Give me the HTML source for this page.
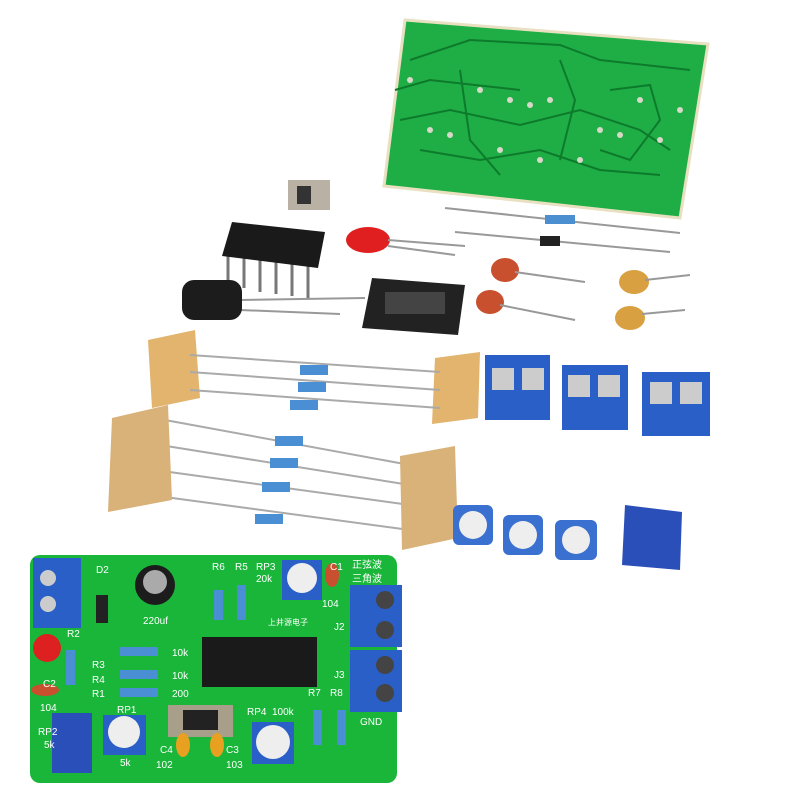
<!DOCTYPE html>
<html><head><meta charset="utf-8"><style>
html,body{margin:0;padding:0;background:#fff;}
svg{display:block;}
text{font-family:"Liberation Sans","Noto Sans CJK SC",sans-serif;}
</style></head><body>
<svg width="800" height="800" viewBox="0 0 800 800" xmlns="http://www.w3.org/2000/svg">
<rect width="800" height="800" fill="#fff"/>
<!-- bare PCB -->
<polygon points="405,20 708,44 680,218 384,186" fill="#1fae45" stroke="#e8e0c0" stroke-width="3"/>
<g fill="none" stroke="#0d7a2c" stroke-width="2">
<path d="M410,60 L470,40 L560,45 L600,60 L690,70"/><path d="M400,120 L450,110 L520,125 L580,110 L640,130 L670,150"/>
<path d="M420,150 L480,160 L540,150 L600,170 L660,175"/><path d="M460,70 L470,140 L500,175"/><path d="M560,60 L575,100 L560,160"/>
<path d="M610,90 L650,85 L660,120 L630,160 L600,150"/><path d="M395,90 L430,80 L520,90"/>
</g>
<g fill="#d8d8c8">
<circle cx="430" cy="130" r="3"/><circle cx="450" cy="135" r="3"/><circle cx="480" cy="90" r="3"/><circle cx="510" cy="100" r="3"/><circle cx="530" cy="105" r="3"/><circle cx="550" cy="100" r="3"/><circle cx="600" cy="130" r="3"/><circle cx="620" cy="135" r="3"/><circle cx="640" cy="100" r="3"/><circle cx="660" cy="140" r="3"/><circle cx="500" cy="150" r="3"/><circle cx="540" cy="160" r="3"/><circle cx="580" cy="160" r="3"/><circle cx="410" cy="80" r="3"/><circle cx="680" cy="110" r="3"/>
</g>
<!-- switch -->
<rect x="288" y="180" width="42" height="30" fill="#b9b2a4"/><rect x="297" y="186" width="14" height="18" fill="#333"/>
<!-- resistor/diode lines -->
<line x1="445" y1="208" x2="680" y2="233" stroke="#999" stroke-width="2"/><rect x="545" y="215" width="30" height="9" fill="#4b8fd0"/>
<line x1="455" y1="232" x2="670" y2="252" stroke="#999" stroke-width="2"/><rect x="540" y="236" width="20" height="10" fill="#222"/>
<!-- IC -->
<line x1="228" y1="255" x2="228" y2="285" stroke="#777" stroke-width="3"/><line x1="244" y1="258" x2="244" y2="288" stroke="#777" stroke-width="3"/><line x1="260" y1="260" x2="260" y2="292" stroke="#777" stroke-width="3"/><line x1="276" y1="262" x2="276" y2="294" stroke="#777" stroke-width="3"/><line x1="292" y1="264" x2="292" y2="296" stroke="#777" stroke-width="3"/><line x1="308" y1="266" x2="308" y2="298" stroke="#777" stroke-width="3"/>
<polygon points="232,222 325,232 318,268 222,256" fill="#1a1a1a"/>
<!-- LED -->
<ellipse cx="368" cy="240" rx="22" ry="13" fill="#e02020"/><line x1="388" y1="240" x2="465" y2="246" stroke="#999" stroke-width="2"/><line x1="388" y1="246" x2="455" y2="255" stroke="#999" stroke-width="2"/>
<!-- caps -->
<ellipse cx="505" cy="270" rx="14" ry="12" fill="#c8502e"/><line x1="515" y1="272" x2="585" y2="282" stroke="#999" stroke-width="2"/>
<ellipse cx="490" cy="302" rx="14" ry="12" fill="#c8502e"/><line x1="500" y1="305" x2="575" y2="320" stroke="#999" stroke-width="2"/>
<ellipse cx="634" cy="282" rx="15" ry="12" fill="#d8a040"/><line x1="645" y1="280" x2="690" y2="275" stroke="#999" stroke-width="2"/>
<ellipse cx="630" cy="318" rx="15" ry="12" fill="#d8a040"/><line x1="642" y1="314" x2="685" y2="310" stroke="#999" stroke-width="2"/>
<!-- electrolytic -->
<line x1="240" y1="300" x2="365" y2="298" stroke="#999" stroke-width="2"/><line x1="240" y1="310" x2="340" y2="314" stroke="#999" stroke-width="2"/>
<rect x="182" y="280" width="60" height="40" rx="12" fill="#1c1c1c"/>
<!-- socket -->
<polygon points="372,278 465,285 458,335 362,328" fill="#222"/><rect x="385" y="292" width="60" height="22" fill="#444"/>
<!-- tapes + resistors -->
<polygon points="148,340 195,330 200,398 152,408" fill="#e2b46e"/>
<polygon points="435,358 480,352 478,418 432,424" fill="#e2b46e"/>
<g stroke="#aaa" stroke-width="2"><line x1="190" y1="355" x2="440" y2="372"/><line x1="190" y1="372" x2="440" y2="390"/><line x1="190" y1="390" x2="440" y2="408"/>
<line x1="165" y1="420" x2="410" y2="465"/><line x1="160" y1="445" x2="410" y2="485"/><line x1="155" y1="470" x2="410" y2="505"/><line x1="150" y1="495" x2="410" y2="530"/></g>
<g fill="#4a8ed4"><rect x="300" y="365" width="28" height="10"/><rect x="298" y="382" width="28" height="10"/><rect x="290" y="400" width="28" height="10"/><rect x="275" y="436" width="28" height="10"/><rect x="270" y="458" width="28" height="10"/><rect x="262" y="482" width="28" height="10"/><rect x="255" y="514" width="28" height="10"/></g>
<polygon points="112,418 168,405 172,500 108,512" fill="#d9b27a"/>
<polygon points="400,456 455,446 458,538 402,550" fill="#d9b27a"/>
<!-- terminal blocks -->
<rect x="485" y="355" width="65" height="65" fill="#2a5fc8"/><rect x="492" y="368" width="22" height="22" fill="#ccc"/><rect x="522" y="368" width="22" height="22" fill="#ccc"/>
<rect x="562" y="365" width="66" height="65" fill="#2a5fc8"/><rect x="568" y="375" width="22" height="22" fill="#ccc"/><rect x="598" y="375" width="22" height="22" fill="#ccc"/>
<rect x="642" y="372" width="68" height="64" fill="#2a5fc8"/><rect x="650" y="382" width="22" height="22" fill="#ccc"/><rect x="680" y="382" width="22" height="22" fill="#ccc"/>
<!-- pots -->
<rect x="453" y="505" width="40" height="40" rx="6" fill="#3a70d0"/><circle cx="473" cy="525" r="14" fill="#eee"/>
<rect x="503" y="515" width="40" height="40" rx="6" fill="#3a70d0"/><circle cx="523" cy="535" r="14" fill="#eee"/>
<rect x="555" y="520" width="42" height="40" rx="6" fill="#3a70d0"/><circle cx="576" cy="540" r="14" fill="#eee"/>
<polygon points="625,505 682,512 680,570 622,565" fill="#2a4fb8"/>
<!-- assembled board -->
<rect x="30" y="555" width="367" height="228" rx="10" fill="#19b63a"/>
<rect x="33" y="558" width="48" height="70" fill="#2a5fc8"/><circle cx="48" cy="578" r="8" fill="#ccc"/><circle cx="48" cy="604" r="8" fill="#ccc"/>
<rect x="96" y="595" width="12" height="28" fill="#222"/>
<circle cx="155" cy="585" r="20" fill="#1c1c1c"/><circle cx="155" cy="582" r="12" fill="#aaa"/>
<circle cx="47" cy="648" r="14" fill="#dd2020"/>
<ellipse cx="45" cy="690" rx="14" ry="6" fill="#c8502e"/>
<rect x="52" y="713" width="40" height="60" fill="#2a4fb8"/>
<rect x="103" y="715" width="43" height="40" fill="#2a5fc8"/><circle cx="124" cy="732" r="16" fill="#eee"/>
<rect x="202" y="637" width="115" height="50" fill="#1a1a1a"/>
<rect x="168" y="705" width="65" height="32" fill="#a89f8a"/><rect x="183" y="710" width="35" height="20" fill="#222"/>
<ellipse cx="183" cy="745" rx="7" ry="12" fill="#e8a020"/><ellipse cx="217" cy="745" rx="7" ry="12" fill="#e8a020"/>
<rect x="252" y="722" width="42" height="42" fill="#2a5fc8"/><circle cx="273" cy="742" r="17" fill="#eee"/>
<rect x="282" y="560" width="40" height="40" fill="#2a5fc8"/><circle cx="302" cy="578" r="15" fill="#eee"/>
<ellipse cx="332" cy="575" rx="7" ry="12" fill="#c8502e"/>
<rect x="350" y="585" width="52" height="62" fill="#2a5fc8"/><circle cx="385" cy="600" r="9" fill="#444"/><circle cx="385" cy="630" r="9" fill="#444"/>
<rect x="350" y="650" width="52" height="62" fill="#2a5fc8"/><circle cx="385" cy="665" r="9" fill="#444"/><circle cx="385" cy="693" r="9" fill="#444"/>
<g fill="#4a8ed4"><rect x="214" y="590" width="9" height="30"/><rect x="237" y="585" width="9" height="35"/><rect x="120" y="647" width="38" height="9"/><rect x="120" y="670" width="38" height="9"/><rect x="120" y="688" width="38" height="9"/><rect x="66" y="650" width="9" height="35"/><rect x="313" y="710" width="9" height="35"/><rect x="337" y="710" width="9" height="35"/></g>
<g fill="#fff" font-size="10">
<text x="96" y="573">D2</text><text x="67" y="637">R2</text><text x="43" y="687">C2</text><text x="40" y="711">104</text><text x="38" y="735">RP2</text><text x="44" y="748">5k</text>
<text x="92" y="668">R3</text><text x="92" y="683">R4</text><text x="92" y="697">R1</text>
<text x="172" y="656">10k</text><text x="172" y="679">10k</text><text x="172" y="697">200</text>
<text x="117" y="713">RP1</text><text x="120" y="766">5k</text><text x="143" y="624">220uf</text>
<text x="212" y="570">R6</text><text x="235" y="570">R5</text><text x="256" y="570">RP3</text><text x="256" y="582">20k</text><text x="322" y="607">104</text>
<text x="330" y="570">C1</text><text x="352" y="568">正弦波</text><text x="352" y="582">三角波</text><text x="334" y="630">J2</text><text x="334" y="678">J3</text>
<text x="360" y="725">GND</text><text x="247" y="715">RP4</text><text x="272" y="715">100k</text><text x="308" y="696">R7</text><text x="330" y="696">R8</text>
<text x="160" y="753">C4</text><text x="156" y="768">102</text><text x="226" y="753">C3</text><text x="226" y="768">103</text>
<text x="268" y="625" font-size="8">上井源电子</text>
</g>
</svg>
</body></html>
